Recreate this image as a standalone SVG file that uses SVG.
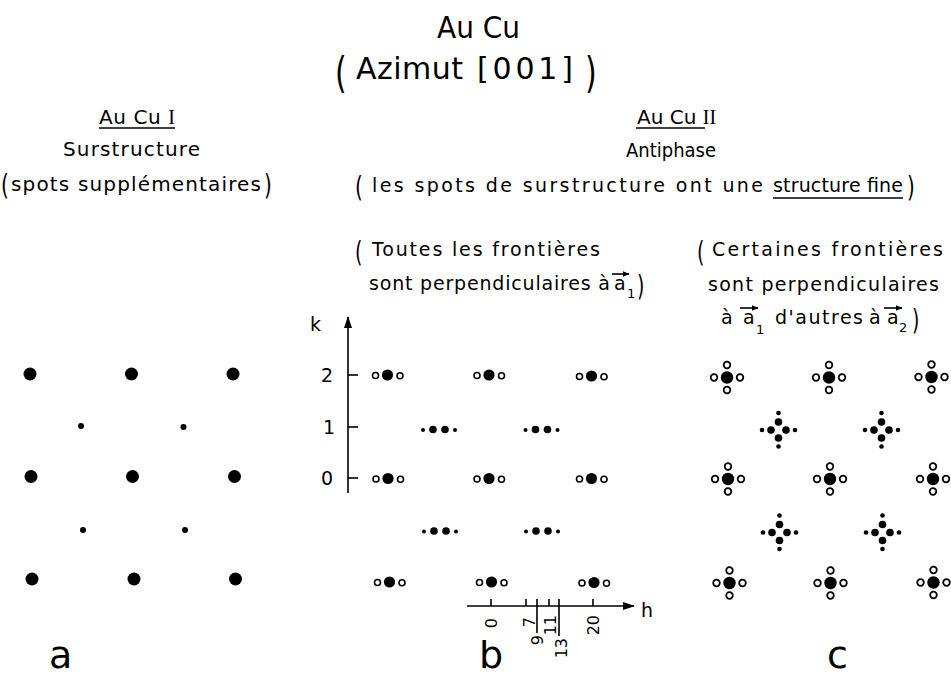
<svg xmlns="http://www.w3.org/2000/svg" width="951" height="679" viewBox="0 0 951 679">
  <style>
    text { font-family: "DejaVu Sans", "Liberation Sans", Arial, sans-serif; fill: #000; }
    .h1 { font-size: 30px; }
    .h2 { font-size: 20px; }
    .t { font-size: 19px; }
    .sub { font-size: 13px; }
    .tick { font-size: 16px; }
    .big { font-size: 38px; }
    .rn { font-family: "Liberation Serif", "Times New Roman", serif; }
    .ln { stroke: #000; stroke-width: 1.6; fill: none; }
    .ul { stroke: #000; stroke-width: 1.3; }
    .dot { fill: #000; }
    .open { fill: #fff; stroke: #000; stroke-width: 1.6; }
    .openc { fill: #fff; stroke: #000; stroke-width: 1.8; }
  </style>
  <defs>
    <marker id="axisHead" viewBox="0 0 12 8" refX="11" refY="4" markerWidth="12" markerHeight="8" markerUnits="userSpaceOnUse" orient="auto">
      <path d="M0,0 L12,4 L0,8 Z" fill="#000"/>
    </marker>
    <marker id="vecHead" viewBox="0 0 7 6" refX="6.5" refY="3" markerWidth="7" markerHeight="6" markerUnits="userSpaceOnUse" orient="auto">
      <path d="M0,0 L7,3 L0,6 Z" fill="#000"/>
    </marker>
    <!-- fundamental spot of panel a -->
    <circle id="aBig" r="6.5" class="dot"/>
    <circle id="aSmall" r="3" class="dot"/>
    <!-- panel b: fundamental spot with two satellites along h -->
    <g id="bSpot">
      <circle cx="-12" cy="0.5" r="3" class="open"/>
      <circle r="5.6" class="dot"/>
      <circle cx="12.5" cy="0.8" r="3" class="open"/>
    </g>
    <!-- panel b: split superstructure spot -->
    <g id="bFine">
      <circle cx="-16" cy="0.6" r="2" class="dot"/>
      <circle cx="-6" r="3.8" class="dot"/>
      <circle cx="6" r="3.8" class="dot"/>
      <circle cx="16" cy="0.6" r="2" class="dot"/>
    </g>
    <!-- panel c: fundamental spot with four satellites -->
    <g id="cSpot">
      <circle r="6.2" class="dot"/>
      <circle cx="-13" r="3.3" class="openc"/>
      <circle cx="13" r="3.3" class="openc"/>
      <circle cy="-12.5" r="3.3" class="openc"/>
      <circle cy="12.5" r="3.3" class="openc"/>
    </g>
    <!-- panel c: superstructure spot split in both directions -->
    <g id="cCross">
      <circle cx="-7.5" r="3.8" class="dot"/>
      <circle cx="7.5" r="3.8" class="dot"/>
      <circle cy="-8" r="3.8" class="dot"/>
      <circle cy="8" r="3.8" class="dot"/>
      <circle cx="-16.5" r="2.3" class="dot"/>
      <circle cx="16.5" r="2.3" class="dot"/>
      <circle cy="-17" r="2.3" class="dot"/>
      <circle cy="16.5" r="2.3" class="dot"/>
    </g>
  </defs>

  <!-- headings -->
  <g id="title">
    <text class="h1" x="437" y="38" textLength="83" lengthAdjust="spacingAndGlyphs">Au Cu</text>
    <text class="h1" transform="translate(335,88) scale(1,1.45)">(</text>
    <text class="h1" x="356" y="79" textLength="107" lengthAdjust="spacing">Azimut</text>
    <text class="h1" x="477" y="79" textLength="96" lengthAdjust="spacing">[001]</text>
    <text class="h1" transform="translate(585,88) scale(1,1.45)">)</text>
  </g>

  <g id="headingI">
    <text class="h2" x="99" y="124" textLength="76" lengthAdjust="spacing">Au Cu <tspan class="rn">I</tspan></text>
    <line class="ul" x1="99" y1="128" x2="175" y2="128"/>
    <text class="h2" x="63" y="156" textLength="137" lengthAdjust="spacing">Surstructure</text>
    <text class="h2" transform="translate(1,195) scale(1,1.45)">(</text>
    <text class="h2" x="11" y="191" textLength="250" lengthAdjust="spacing">spots supplémentaires</text>
    <text class="h2" transform="translate(264,195) scale(1,1.45)">)</text>
  </g>

  <g id="headingII">
    <text class="h2" x="637" y="124" font-size="17">Au Cu <tspan class="rn">II</tspan></text>
    <line class="ul" x1="636" y1="128" x2="705" y2="128"/>
    <text class="h2" x="626" y="157" font-size="18" textLength="90" lengthAdjust="spacingAndGlyphs">Antiphase</text>
    <text class="h2" transform="translate(355,197) scale(1,1.45)">(</text>
    <text class="t" x="372" y="192" textLength="391" lengthAdjust="spacing">les spots de surstructure ont une</text>
    <text class="t" x="773" y="192" textLength="130" lengthAdjust="spacing">structure fine</text>
    <line class="ul" x1="773" y1="198" x2="903" y2="198"/>
    <text class="h2" transform="translate(907,197) scale(1,1.45)">)</text>
  </g>

  <g id="noteB">
    <text class="t" transform="translate(355,262) scale(1,1.45)">(</text>
    <text class="t" x="372" y="256" textLength="228" lengthAdjust="spacing">Toutes les frontières</text>
    <text class="t" x="369" y="290" textLength="241" lengthAdjust="spacing">sont perpendiculaires à</text>
    <text class="t" x="614" y="290">a</text>
    <line class="ln" x1="612" y1="274" x2="629" y2="274" stroke-width="1.3" marker-end="url(#vecHead)"/>
    <text class="sub" x="627" y="298">1</text>
    <text class="t" transform="translate(637,296) scale(1,1.45)">)</text>
  </g>

  <g id="noteC">
    <text class="t" transform="translate(697,262) scale(1,1.45)">(</text>
    <text class="t" x="712" y="256" textLength="231" lengthAdjust="spacing">Certaines frontières</text>
    <text class="t" x="708" y="291" textLength="231" lengthAdjust="spacing">sont perpendiculaires</text>
    <text class="t" x="721" y="324">à</text>
    <text class="t" x="743" y="324">a</text>
    <line class="ln" x1="740" y1="308" x2="758" y2="308" stroke-width="1.3" marker-end="url(#vecHead)"/>
    <text class="sub" x="756" y="334">1</text>
    <text class="t" x="775" y="324" textLength="88" lengthAdjust="spacing">d'autres</text>
    <text class="t" x="869" y="324">à</text>
    <text class="t" x="887" y="324">a</text>
    <line class="ln" x1="884" y1="308" x2="902" y2="308" stroke-width="1.3" marker-end="url(#vecHead)"/>
    <text class="sub" x="899" y="332">2</text>
    <text class="t" transform="translate(912,330) scale(1,1.45)">)</text>
  </g>

  <!-- axes, ticks and scale labels of panel b -->
  <g id="connectors">
    <line class="ln" x1="348" y1="493" x2="348" y2="317" marker-end="url(#axisHead)"/>
    <line class="ln" x1="348" y1="375" x2="358" y2="375"/>
    <line class="ln" x1="348" y1="427" x2="358" y2="427"/>
    <line class="ln" x1="348" y1="478" x2="358" y2="478"/>
    <line class="ln" x1="467" y1="606" x2="634" y2="606" marker-end="url(#axisHead)"/>
    <path class="ln" d="M491,606V599 M526,606V599 M537,599V633 M549,606V599 M559,599V636 M593,606V599"/>
  </g>

  <g id="axisLabels">
    <text class="t" x="310" y="331">k</text>
    <text class="t" x="321" y="382">2</text>
    <text class="t" x="323" y="434">1</text>
    <text class="t" x="321" y="485">0</text>
    <text class="t" x="641" y="617">h</text>
    <text class="tick" text-anchor="end" transform="translate(497,618) rotate(-90)">0</text>
    <text class="tick" text-anchor="end" transform="translate(535,617) rotate(-90)">7</text>
    <text class="tick" text-anchor="end" transform="translate(543,635) rotate(-90)">9</text>
    <text class="tick" text-anchor="end" transform="translate(556,615) rotate(-90)">11</text>
    <text class="tick" text-anchor="end" transform="translate(567,638) rotate(-90)">13</text>
    <text class="tick" text-anchor="end" transform="translate(599,615) rotate(-90)">20</text>
  </g>

  <!-- panel a -->
  <g id="panelA">
    <g id="a-0-0"><use href="#aBig" x="30" y="374"/></g>
    <g id="a-1-0"><use href="#aBig" x="131.5" y="374"/></g>
    <g id="a-2-0"><use href="#aBig" x="233" y="374"/></g>
    <g id="a-0-1"><use href="#aBig" x="31" y="476.5"/></g>
    <g id="a-1-1"><use href="#aBig" x="132.5" y="476.5"/></g>
    <g id="a-2-1"><use href="#aBig" x="234.5" y="476.5"/></g>
    <g id="a-0-2"><use href="#aBig" x="32" y="579"/></g>
    <g id="a-1-2"><use href="#aBig" x="134" y="579"/></g>
    <g id="a-2-2"><use href="#aBig" x="235.5" y="579"/></g>
    <g id="a-s1"><use href="#aSmall" x="81" y="426"/></g>
    <g id="a-s2"><use href="#aSmall" x="183.5" y="427"/></g>
    <g id="a-s3"><use href="#aSmall" x="83" y="530"/></g>
    <g id="a-s4"><use href="#aSmall" x="185" y="530"/></g>
    <text class="big" x="49" y="668">a</text>
  </g>

  <!-- panel b -->
  <g id="panelB">
    <g id="b-0-2"><use href="#bSpot" x="387.5" y="375"/></g>
    <g id="b-1-2"><use href="#bSpot" x="489" y="375"/></g>
    <g id="b-2-2"><use href="#bSpot" x="591.5" y="376"/></g>
    <g id="b-f1"><use href="#bFine" x="439" y="429.5"/></g>
    <g id="b-f2"><use href="#bFine" x="541.5" y="429.5"/></g>
    <g id="b-0-0"><use href="#bSpot" x="388" y="478.5"/></g>
    <g id="b-1-0"><use href="#bSpot" x="489" y="478.5"/></g>
    <g id="b-2-0"><use href="#bSpot" x="591.5" y="478.5"/></g>
    <g id="b-f3"><use href="#bFine" x="440" y="531"/></g>
    <g id="b-f4"><use href="#bFine" x="542" y="531"/></g>
    <g id="b-0-m"><use href="#bSpot" x="389.5" y="582"/></g>
    <g id="b-1-m"><use href="#bSpot" x="491.5" y="582"/></g>
    <g id="b-2-m"><use href="#bSpot" x="594" y="582.5"/></g>
    <text class="big" x="479" y="668">b</text>
  </g>

  <!-- panel c -->
  <g id="panelC">
    <g id="c-0-2"><use href="#cSpot" x="727" y="377.5"/></g>
    <g id="c-1-2"><use href="#cSpot" x="829" y="377.5"/></g>
    <g id="c-2-2"><use href="#cSpot" x="931.5" y="377"/></g>
    <g id="c-x1"><use href="#cCross" x="778.5" y="430"/></g>
    <g id="c-x2"><use href="#cCross" x="881.5" y="430"/></g>
    <g id="c-0-0"><use href="#cSpot" x="728" y="479"/></g>
    <g id="c-1-0"><use href="#cSpot" x="830" y="479"/></g>
    <g id="c-2-0"><use href="#cSpot" x="933" y="479"/></g>
    <g id="c-x3"><use href="#cCross" x="779.5" y="532.5"/></g>
    <g id="c-x4"><use href="#cCross" x="882.5" y="532.5"/></g>
    <g id="c-0-m"><use href="#cSpot" x="729.5" y="583"/></g>
    <g id="c-1-m"><use href="#cSpot" x="830.5" y="583"/></g>
    <g id="c-2-m"><use href="#cSpot" x="933.5" y="582.5"/></g>
    <text class="big" x="827" y="668">c</text>
  </g>
</svg>
